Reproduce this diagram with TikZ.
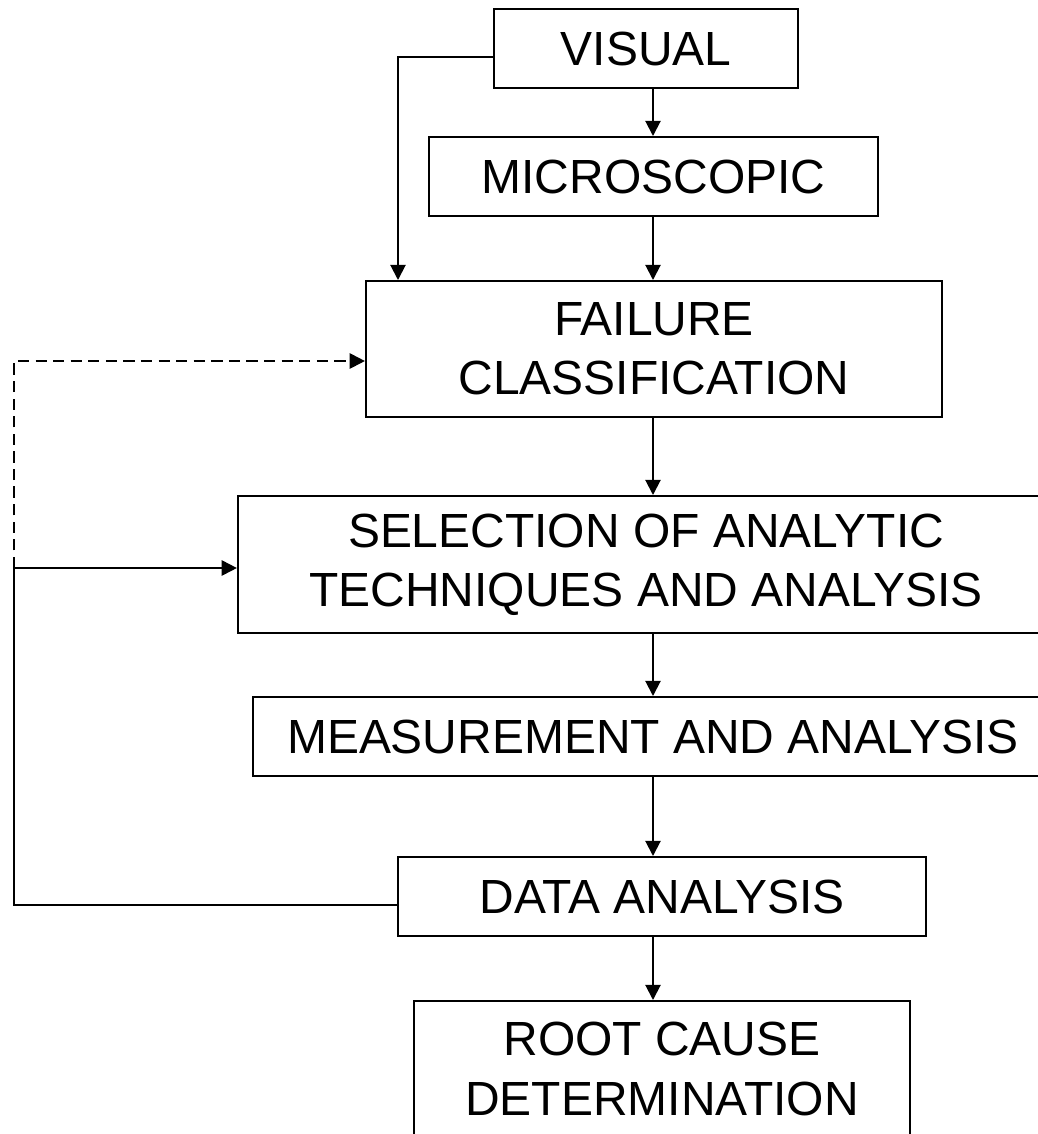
\documentclass[tikz,border=0pt]{standalone}
\usepackage{fontspec}
\setmainfont{Liberation Sans}
\usetikzlibrary{arrows.meta}
\begin{document}
\begin{tikzpicture}[x=0.025cm,y=-0.025cm,
	box/.style={rectangle,draw,line width=1.4pt,inner sep=0pt,align=center,
		font=\fontsize{34.1}{42}\selectfont},
	arr/.style={-{Triangle[length=0.38cm,width=0.38cm]},line width=1.4pt}]
\useasboundingbox (0,0) rectangle (1038,1134);
\clip (0,0) rectangle (1038,1134);
\node[box,minimum width=7.6cm,minimum height=1.975cm] (visual) at (646,48.5) {VISUAL};
\node[box,minimum width=11.225cm,minimum height=1.975cm] (micro) at (653.5,176.5) {MICROSCOPIC};
\node[box,minimum width=14.4cm,minimum height=3.4cm] (failure) at (654,349) {FAILURE\\CLASSIFICATION};
\node[box,minimum width=20.4cm,minimum height=3.425cm] (select) at (646,564.5) {SELECTION OF ANALYTIC\\TECHNIQUES AND ANALYSIS};
\node[box,minimum width=20cm,minimum height=1.975cm] (measure) at (653,736.5) {MEASUREMENT AND ANALYSIS};
\node[box,minimum width=13.2cm,minimum height=1.975cm] (data) at (662,896.5) {DATA ANALYSIS};
\node[box,minimum width=12.4cm,minimum height=3.4cm] (root) at (662,1069) {ROOT CAUSE\\DETERMINATION};
\coordinate (spine) at (653,0);
\coordinate (vis-out) at (398,57);
\coordinate (fb) at (14,905);
\coordinate (sel-in) at (14,568);
\coordinate (fail-in) at (14,361);
\foreach \a/\b in {visual/micro,micro/failure,failure/select,select/measure,measure/data,data/root} {
	\draw[arr] (\a.south -| spine) -- (\b.north -| spine);
}
\draw[arr] (vis-out -| visual.west) -- (vis-out) -- (vis-out |- failure.north);
\draw[line width=1.4pt] (fb -| data.west) -- (fb) -- (sel-in);
\draw[arr] (sel-in) -- (sel-in -| select.west);
\draw[arr,dash pattern=on 8pt off 4.5pt] (sel-in) -- (fail-in) -- (fail-in -| failure.west);
\end{tikzpicture}
\end{document}
